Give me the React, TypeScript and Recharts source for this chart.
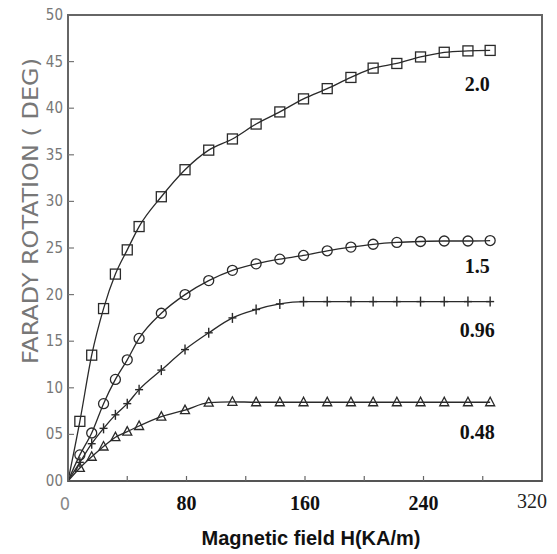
import React from 'react';
import { LineChart, Line, XAxis, YAxis, ReferenceArea, LabelList } from 'recharts';

// applied field H (KA/m) where rotation was measured
const fieldH = [0, 8, 16, 24, 32, 40, 48, 63, 79, 95, 111, 127, 143, 159, 175, 191, 206, 222, 238, 254, 270, 285];

// Faraday rotation (deg) for each sample thickness
const rot20 = [0, 6.4, 13.5, 18.5, 22.2, 24.8, 27.3, 30.5, 33.4, 35.5, 36.7, 38.3, 39.6, 41.0, 42.1, 43.3, 44.3, 44.8, 45.5, 46.0, 46.15, 46.2];
const rot15 = [0, 2.8, 5.15, 8.3, 10.9, 13.0, 15.3, 18.0, 20.0, 21.5, 22.6, 23.3, 23.8, 24.2, 24.7, 25.1, 25.4, 25.6, 25.7, 25.75, 25.75, 25.8];
const rot096 = [0, 2.0, 4.0, 5.65, 7.1, 8.3, 9.8, 11.9, 14.1, 15.9, 17.5, 18.4, 19.0, 19.25, 19.25, 19.25, 19.25, 19.25, 19.25, 19.25, 19.25, 19.25];
const rot048 = [0, 1.4, 2.6, 3.7, 4.7, 5.3, 5.9, 6.9, 7.6, 8.4, 8.5, 8.45, 8.45, 8.45, 8.45, 8.45, 8.45, 8.45, 8.45, 8.45, 8.45, 8.45];

const xTicks = [0, 40, 80, 120, 160, 200, 240, 280, 320];
const yTicks = [0, 5, 10, 15, 20, 25, 30, 35, 40, 45, 50];

const data = fieldH.map((h, i) => ({
  h,
  s20: rot20[i],
  s15: rot15[i],
  s096: rot096[i],
  s048: rot048[i],
}));

const INK = '#2a2a2a';
const last = data.length - 1;

type DotProps = { cx?: number; cy?: number; index?: number };

const SquareDot = ({ cx, cy, index }: DotProps) =>
  index === 0 || cx == null || cy == null ? <g /> : (
    <rect x={cx - 5} y={cy - 5} width={10} height={10} fill="none" stroke={INK} strokeWidth={1.3} />
  );

const CircleDot = ({ cx, cy, index }: DotProps) =>
  index === 0 || cx == null || cy == null ? <g /> : (
    <circle cx={cx} cy={cy} r={5} fill="none" stroke={INK} strokeWidth={1.3} />
  );

const CrossDot = ({ cx, cy, index }: DotProps) =>
  index === 0 || cx == null || cy == null ? <g /> : (
    <g stroke={INK} strokeWidth={1.4}>
      <line x1={cx} y1={cy - 5} x2={cx} y2={cy + 5} />
      <line x1={cx - 4} y1={cy} x2={cx + 4} y2={cy} />
    </g>
  );

const TriangleDot = ({ cx, cy, index }: DotProps) =>
  index === 0 || cx == null || cy == null ? <g /> : (
    <polygon
      points={`${cx},${cy - 5} ${cx - 4.5},${cy + 3.5} ${cx + 4.5},${cy + 3.5}`}
      fill="none"
      stroke={INK}
      strokeWidth={1.3}
    />
  );

// thickness label drawn under the end of each curve
const endLabel = (text: string, dy: number) => (props: any) => {
  if (props.index !== last) return null;
  return (
    <text
      x={props.x - 13}
      y={props.y + dy}
      textAnchor="middle"
      dominantBaseline="central"
      fontFamily="'Liberation Serif', serif"
      fontWeight="bold"
      fontSize={20}
      fill="#111"
    >
      {text}
    </text>
  );
};

const XTick = (props: any) => {
  const { x, y, payload } = props;
  const v = payload.value;
  let label: React.ReactNode = null;
  if (v === 0) {
    label = (
      <text x={x - 3} y={y + 22} textAnchor="middle" dominantBaseline="central"
        fontFamily="'DejaVu Sans Condensed', sans-serif" fontSize={18} fill="#888">0</text>
    );
  } else if (v === 320) {
    label = (
      <text x={x - 10} y={y + 20} textAnchor="middle" dominantBaseline="central"
        fontFamily="'Liberation Serif', serif" fontSize={20} fill="#222">320</text>
    );
  } else if (v % 80 === 0) {
    label = (
      <text x={x} y={y + 22} textAnchor="middle" dominantBaseline="central"
        fontFamily="'Liberation Serif', serif" fontWeight="bold" fontSize={20} fill="#111">{v}</text>
    );
  }
  return (
    <g>
      {v > 0 && v < 320 && <line x1={x} y1={y} x2={x} y2={y - 5} stroke="#666" strokeWidth={1.2} />}
      {label}
    </g>
  );
};

const YTick = (props: any) => {
  const { x, y, payload } = props;
  const v = payload.value as number;
  return (
    <g>
      {v > 0 && v < 50 && <line x1={x} y1={y} x2={x + 6} y2={y} stroke="#777" strokeWidth={1.2} />}
      <text x={x - 5} y={y} textAnchor="end" dominantBaseline="central"
        fontFamily="'DejaVu Sans Condensed', sans-serif" fontSize={15} fill="#777">
        {String(v).padStart(2, '0')}
      </text>
    </g>
  );
};

const YTitle = (props: any) => {
  const vb = props.viewBox;
  const cx = vb.x + 30;
  const cy = vb.y + 196;
  return (
    <text x={cx} y={cy} transform={`rotate(-90 ${cx} ${cy})`} textAnchor="middle" dominantBaseline="central"
      fontFamily="'DejaVu Sans Condensed', sans-serif" fontSize={22} fill="#777"
      textLength={306} lengthAdjust="spacingAndGlyphs">
      FARADY  ROTATION ( DEG)
    </text>
  );
};

const XTitle = (props: any) => {
  const vb = props.viewBox;
  return (
    <text x={vb.x + 243} y={vb.y + 57} textAnchor="middle" dominantBaseline="central"
      fontFamily="'Liberation Sans', Arial, sans-serif" fontWeight="bold" fontSize={20} fill="#111">
      Magnetic field H(KA/m)
    </text>
  );
};

const App: React.FC = () => {
  return (
    <div style={{ position: 'absolute', left: 0, top: 0, width: 557, height: 554, background: '#fff' }}>
      <LineChart width={557} height={554} data={data} margin={{ top: 15, right: 15, left: 0, bottom: 0 }}>
        <XAxis
          dataKey="h"
          type="number"
          domain={[0, 320]}
          ticks={xTicks}
          interval={0}
          height={73}
          tickSize={0}
          tickMargin={0}
          tick={<XTick />}
          axisLine={{ stroke: '#555', strokeWidth: 2 }}
          label={<XTitle />}
        />
        <YAxis
          type="number"
          domain={[0, 50]}
          ticks={yTicks}
          interval={0}
          width={68}
          tickSize={0}
          tickMargin={0}
          tick={<YTick />}
          axisLine={{ stroke: '#666', strokeWidth: 2 }}
          label={<YTitle />}
        />
        <ReferenceArea x1={0} x2={320} y1={0} y2={50} fill="none" stroke="#666" strokeWidth={2} />
        <Line type="monotone" dataKey="s20" stroke={INK} strokeWidth={1.3} dot={SquareDot} isAnimationActive={false}>
          <LabelList dataKey="s20" content={endLabel('2.0', 34)} />
        </Line>
        <Line type="monotone" dataKey="s15" stroke={INK} strokeWidth={1.3} dot={CircleDot} isAnimationActive={false}>
          <LabelList dataKey="s15" content={endLabel('1.5', 25)} />
        </Line>
        <Line type="monotone" dataKey="s096" stroke={INK} strokeWidth={1.3} dot={CrossDot} isAnimationActive={false}>
          <LabelList dataKey="s096" content={endLabel('0.96', 28)} />
        </Line>
        <Line type="monotone" dataKey="s048" stroke={INK} strokeWidth={1.3} dot={TriangleDot} isAnimationActive={false}>
          <LabelList dataKey="s048" content={endLabel('0.48', 30)} />
        </Line>
      </LineChart>
    </div>
  );
};

export default App;
